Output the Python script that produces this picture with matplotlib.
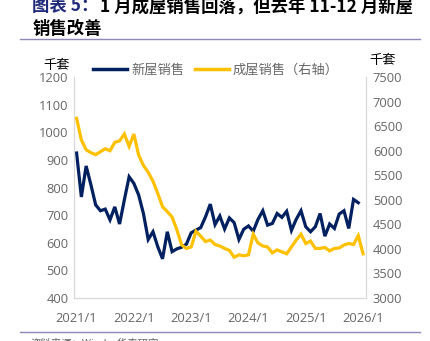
import matplotlib
matplotlib.use("Agg")
import matplotlib.pyplot as plt
from matplotlib.lines import Line2D

# ----- data (thousand units, monthly from 2021/1) -----
new_home_sales = [925, 766, 878, 810, 737, 716, 722, 683, 730, 668, 755, 839,
                  815, 773, 706, 612, 640, 586, 542, 640, 568, 578, 584, 595,
                  636, 646, 655, 694, 740, 666, 697, 650, 690, 673, 612, 649,
                  661, 642, 685, 716, 664, 670, 706, 692, 714, 645, 685, 716,
                  658, 640, 658, 706, 624, 668, 652, 704, 716, 652, 757, 745]
existing_home_sales = [6660, 6220, 6020, 5960, 5920, 5980, 6040, 6000, 6170, 6200, 6340, 6090,
                       6340, 5910, 5700, 5560, 5380, 5130, 4860, 4760, 4650, 4390, 4080, 4010,
                       4040, 4360, 4260, 4150, 4180, 4090, 4060, 4010, 3970, 3830, 3880, 3860,
                       3880, 4300, 4120, 4060, 4040, 3920, 3980, 3940, 3900, 4040, 4180, 4300,
                       4110, 4160, 4010, 4010, 4030, 3960, 4010, 4020, 4080, 4110, 4090, 4270,
                       3900]
tick_pos = [0, 12, 24, 36, 48, 60]
tick_labels = ["2021/1", "2022/1", "2023/1", "2024/1", "2025/1", "2026/1"]
left_ticks = [400, 500, 600, 700, 800, 900, 1000, 1100, 1200]
right_ticks = [3000, 3500, 4000, 4500, 5000, 5500, 6000, 6500, 7000, 7500]

BLUE = "#002060"
YELLOW = "#FFC000"
GRAY = "#666666"
CJK = ["Noto Sans CJK SC", "DejaVu Sans"]

fig = plt.figure(figsize=(4.30, 3.41), dpi=100)
ax = fig.add_axes([0.172, 0.126, 0.679, 0.648])
ax2 = ax.twinx()

ax.plot(range(len(new_home_sales)), new_home_sales, color=BLUE, lw=2.3,
        solid_joinstyle="miter")
ax2.plot(range(len(existing_home_sales)), existing_home_sales, color=YELLOW, lw=2.3,
         solid_joinstyle="miter")

ax.set_xlim(-0.55, 60.6)
ax.set_ylim(400, 1200)
ax2.set_ylim(3000, 7500)
ax.set_yticks(left_ticks)
ax2.set_yticks(right_ticks)
ax.set_xticks(tick_pos)
ax.set_xticklabels(tick_labels)

for a in (ax, ax2):
    a.tick_params(length=0, labelsize=9.3, labelcolor=GRAY)
    for lab in a.get_xticklabels() + a.get_yticklabels():
        lab.set_fontfamily("Open Sans")
    for side in ("left", "right", "bottom"):
        a.spines[side].set_color("#D9D9D9")
        a.spines[side].set_linewidth(0.8)
    a.spines["top"].set_visible(False)
ax.tick_params(axis="y", pad=4)
ax2.tick_params(axis="y", pad=5)
ax.tick_params(axis="x", pad=10)

# units
fig.text(0.100, 0.807, "千套", fontsize=9.5, family=CJK, color="black", ha="left", va="center")
fig.text(0.860, 0.822, "千套", fontsize=9.5, family=CJK, color="black", ha="left", va="center")

# legend
handles = [Line2D([], [], color=BLUE, lw=2.5), Line2D([], [], color=YELLOW, lw=2.5)]
fig.legend(handles, ["新屋销售", "成屋销售（右轴）"], loc="center", bbox_to_anchor=(0.502, 0.793),
           ncol=2, frameon=False, handlelength=2.6, handletextpad=0.3, columnspacing=0.8,
           prop={"family": CJK, "size": 9.5}, labelcolor=GRAY)

# title
fig.text(0.075, 0.982, "图表 5：", fontsize=12.5, family=CJK, weight="bold", color="#1F2A7A",
         ha="left", va="center")
fig.text(0.232, 0.982, "1 月成屋销售回落，但去年 11-12 月新屋", fontsize=12.5, family=CJK,
         weight="bold", color="black", ha="left", va="center")
fig.text(0.075, 0.915, "销售改善", fontsize=12.5, family=CJK, weight="bold", color="black",
         ha="left", va="center")
fig.add_artist(Line2D([0.047, 0.977], [0.886, 0.886], color="#8C88B8", lw=1.0))

# bottom rule and source
fig.add_artist(Line2D([0.047, 0.977], [0.026, 0.026], color="#8C88B8", lw=1.0))
fig.text(0.07, -0.008, "资料来源：Wind，华泰研究", fontsize=7.5, family=CJK, color=GRAY,
         ha="left", va="center")

fig.savefig("out.png", dpi=100)
